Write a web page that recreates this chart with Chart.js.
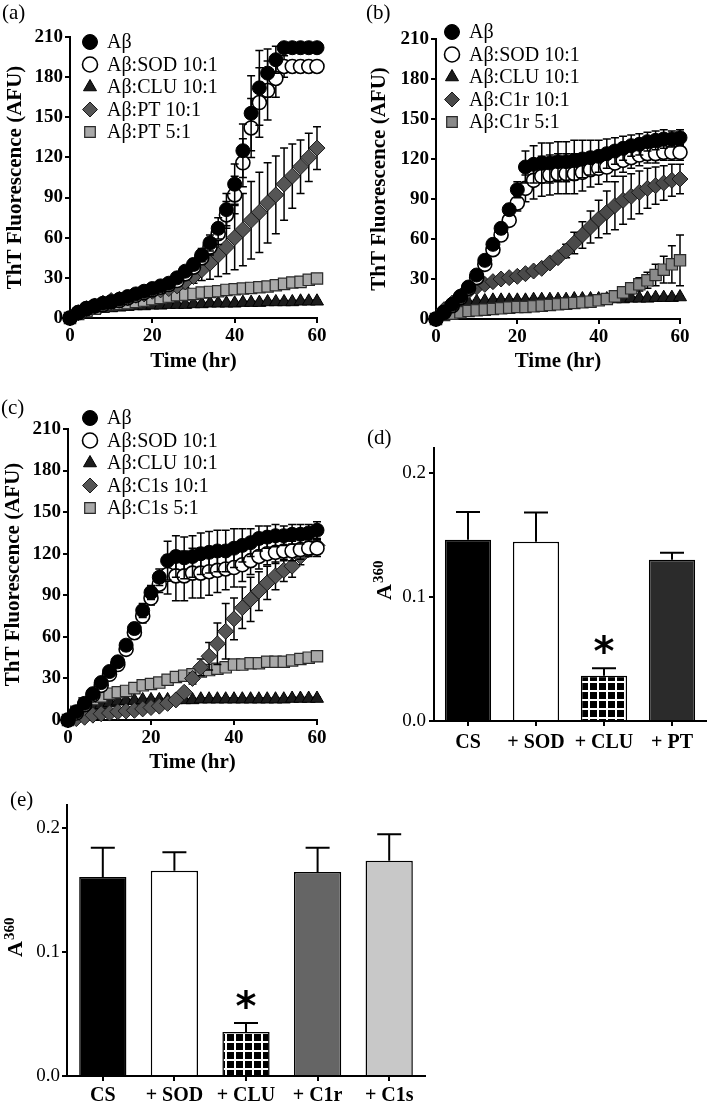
<!DOCTYPE html>
<html>
<head>
<meta charset="utf-8">
<script src="https://cdn.jsdelivr.net/npm/chart.js@4.4.0/dist/chart.umd.min.js"></script>
<style>
    html, body { margin: 0; padding: 0; background: #fff; overflow: hidden; }
    body { width: 709px; height: 1101px; position: relative; }
    canvas { position: absolute; }
</style>
</head>
<body>
<canvas id="chartA" width="354" height="380" style="left:0;top:0"></canvas>
<canvas id="chartB" width="355" height="380" style="left:354px;top:0"></canvas>
<canvas id="chartC" width="354" height="385" style="left:0;top:390px"></canvas>
<canvas id="chartD" width="355" height="340" style="left:354px;top:420px"></canvas>
<canvas id="chartE" width="460" height="321" style="left:0;top:780px"></canvas>
<script>
// Time points (hr)
const hours = [0, 2, 4, 6, 8, 10, 12, 14, 16, 18, 20, 22, 24, 26, 28, 30, 32, 34, 36, 38, 40, 42, 44, 46, 48, 50, 52, 54, 56, 58, 60];
const timeTicks = [0, 20, 40, 60];
const thtTicks = [0, 30, 60, 90, 120, 150, 180, 210];
const a360Ticks = [0, 0.1, 0.2];

// (a) Abeta with SOD, CLU and PT
const labelsA = ['Aβ', 'Aβ:SOD 10:1', 'Aβ:CLU 10:1', 'Aβ:PT 10:1', 'Aβ:PT 5:1'];
const abA = [0, 4, 7, 9, 11, 12, 14, 16, 18, 20, 22, 24, 26, 30, 35, 40, 47, 56, 67, 81, 100, 125, 153, 172, 183, 193, 202, 202, 202, 202, 202];
const sodA = [0, 4, 7, 9, 10, 12, 13, 15, 17, 19, 21, 23, 25, 28, 33, 38, 45, 53, 63, 77, 92, 116, 142, 161, 170, 179, 188, 188, 188, 188, 188];
const cluA = [0, 3, 5, 6, 7, 7.5, 8, 8.5, 9, 9, 9.5, 9.5, 10, 10, 10, 10.5, 10.5, 11, 11, 11, 11, 11.5, 11.5, 11.5, 12, 12, 12, 12, 12.5, 12.5, 12.5];
const pt10A = [0, 4, 7, 9, 11, 13, 14, 15, 17, 18, 20, 21, 22, 24, 27, 31, 36, 41, 47, 53, 60, 66, 73, 79, 86, 92, 100, 106, 113, 120, 127];
const pt5A = [0, 3, 5, 7, 9, 10, 10.5, 11, 12, 13, 14, 15, 16, 17, 17.5, 18, 19, 19.5, 20, 21, 21.5, 22, 22.5, 23, 23.5, 24.5, 25.5, 26.5, 27, 28.5, 29.5];
const abErrA = [0, 1, 1, 1, 1, 1, 1, 1, 1, 1, 1, 1, 2, 2, 3, 4, 5, 6, 8, 12, 15, 20, 28, 28, 18, 10, 0, 0, 0, 0, 0];
const sodErrA = [0, 1, 1, 1, 1, 1, 1, 1, 1, 1, 1, 1, 2, 2, 3, 4, 5, 6, 8, 10, 14, 18, 22, 26, 22, 14, 8, 0, 0, 0, 0];
const cluErrA = [0, 1, 1, 1, 1, 1, 1, 1, 1, 1, 1, 1, 1, 1, 1, 1, 1, 1, 1, 1, 1, 1, 1, 1, 1, 1, 1, 1, 1, 1, 1];
const pt10ErrA = [0, 0, 0, 0, 0, 0, 0, 0, 0, 0, 0, 0, 2, 3, 4, 5, 8, 12, 16, 20, 24, 27, 29, 30, 30, 29, 27, 24, 20, 18, 16];
const pt5ErrA = [0, 1, 1, 1, 1, 1, 1, 1, 1, 1, 1, 1, 1, 1, 1, 1, 1, 1, 1, 1, 1.5, 1.5, 1.5, 1.5, 1.5, 1.5, 2, 2, 2, 2, 2];

// (b) Abeta with SOD, CLU and C1r
const labelsB = ['Aβ', 'Aβ:SOD 10:1', 'Aβ:CLU 10:1', 'Aβ:C1r 10:1', 'Aβ:C1r 5:1'];
const abB = [0, 5, 11, 17, 24, 33, 44, 56, 68, 82, 97, 114, 116, 117, 117, 118, 118, 119, 120, 121, 122, 124, 126, 128, 130, 131, 133, 134, 135, 135, 136];
const sodB = [0, 5, 10, 16, 23, 31, 41, 52, 63, 74, 87, 98, 104, 107, 108, 109, 109, 109, 110, 112, 113, 114, 117, 119, 121, 123, 124, 124, 125, 125, 125];
const cluB = [0, 5, 9, 11, 12, 13, 13.5, 14, 14, 14, 14, 14, 14.5, 14.5, 14.5, 14.5, 14.5, 15, 15, 15, 15, 15, 15, 15, 15.5, 15.5, 15.5, 16, 16, 16, 16.5];
const c1r10B = [0, 7, 12, 17, 21, 24, 26, 28, 30, 31, 32, 34, 36, 38, 42, 46, 51, 57, 63, 69, 75, 80, 85, 89, 92, 95, 98, 100, 102, 104, 105];
const c1r5B = [0, 3, 4, 5, 6, 6.5, 7, 7.5, 8, 8.5, 9, 9, 9.5, 10, 10.5, 11, 11.5, 12, 12.5, 13, 14, 15, 17, 20, 23, 26, 29, 33, 37, 41, 44];
const abErrB = [0, 1, 1, 1, 2, 2, 3, 3, 4, 4, 6, 12, 14, 15, 15, 15, 15, 15, 14, 13, 12, 11, 10, 9, 8, 8, 7, 7, 7, 6, 6];
const sodErrB = [0, 1, 1, 1, 2, 2, 3, 3, 4, 4, 6, 10, 14, 15, 15, 15, 15, 15, 14, 13, 12, 11, 10, 9, 8, 8, 7, 7, 6, 6, 6];
const cluErrB = [0, 1, 1, 1, 1, 1, 1, 1, 1, 1, 1, 1, 1, 1, 1, 1, 1, 1, 1, 1, 1, 1, 1, 1, 1, 1, 1, 1, 1, 1, 1];
const c1r10ErrB = [0, 0, 0, 0, 0, 0, 0, 0, 0, 0, 1, 1, 1, 2, 2, 3, 5, 8, 10, 12, 14, 16, 18, 18, 17, 16, 15, 14, 13, 12, 11];
const c1r5ErrB = [0, 0, 0, 0, 0, 0, 0, 0, 0, 0, 0, 0, 0, 0, 0, 0, 0, 0, 0, 0, 0, 0, 2, 3, 4, 5, 6, 8, 10, 14, 19];

// (c) Abeta with SOD, CLU and C1s
const labelsC = ['Aβ', 'Aβ:SOD 10:1', 'Aβ:CLU 10:1', 'Aβ:C1s 10:1', 'Aβ:C1s 5:1'];
const abC = [0, 6, 12, 19, 27, 35, 42, 54, 66, 79, 92, 103, 115, 118, 117, 118, 120, 121, 122, 122, 124, 126, 128, 131, 132, 133, 133, 134, 134, 135, 137];
const sodC = [0, 5, 11, 18, 25, 33, 40, 51, 63, 75, 88, 98, 105, 104, 104, 106, 106, 107, 108, 109, 110, 112, 115, 118, 120, 121, 122, 122, 123, 124, 124];
const cluC = [0, 3, 6, 9, 11, 12.5, 13.5, 14, 14, 14.5, 14.5, 14.5, 14.5, 14.5, 14.5, 14.5, 15, 15, 15, 15, 15, 15, 15, 15, 15, 15, 15, 15.5, 15.5, 15.5, 15.5];
const c1s10C = [0, 1, 2, 3.5, 4.5, 5, 6, 6.5, 7, 8, 9, 10, 12, 14.5, 20, 30, 38, 46, 55, 64, 73, 81, 87, 93, 99, 104, 108, 111, 118, 123, 126];
const c1s5C = [0, 6, 12, 15, 17, 19, 20, 21, 23, 25, 26, 27, 29, 31, 32, 33, 35, 36, 37, 38, 40, 40, 41, 41, 42, 42, 42, 43, 44, 45, 46];
const abErrC = [0, 1, 1, 2, 2, 3, 3, 4, 4, 5, 5, 6, 14, 15, 15, 15, 15, 15, 15, 15, 14, 12, 10, 9, 8, 8, 7, 7, 7, 6, 6];
const sodErrC = [0, 1, 1, 2, 2, 3, 3, 4, 4, 5, 5, 6, 14, 18, 18, 18, 18, 17, 16, 15, 14, 12, 10, 9, 8, 8, 7, 7, 7, 6, 6];
const cluErrC = [0, 1, 1, 1, 1, 1, 1, 1, 1, 1, 1, 1, 1, 1, 1, 1, 1, 1, 1, 1, 1, 1, 1, 1, 1, 1, 1, 1, 1, 1, 1];
const c1s10ErrC = [0, 0, 0, 0, 0, 0, 0, 0, 0, 0, 0, 0, 0, 0, 2, 4, 6, 10, 15, 20, 15, 15, 16, 14, 12, 10, 8, 8, 6, 4, 3];
const c1s5ErrC = [0, 1, 1, 1, 1, 1, 1, 1, 1, 1, 1.5, 1.5, 1.5, 1.5, 1.5, 1.5, 1.5, 1.5, 1.5, 1.5, 1.5, 1.5, 1.5, 1.5, 1.5, 1.5, 1.5, 1.5, 1.5, 1.5, 1.5];

// (d) and (e) turbidity bars
const catsD = ['CS', '+ SOD', '+ CLU', '+ PT'];
const meanD = [0.146, 0.1445, 0.0365, 0.130];
const semD = [0.0225, 0.0235, 0.006, 0.0055];
const catsE = ['CS', '+ SOD', '+ CLU', '+ C1r', '+ C1s'];
const meanE = [0.1605, 0.1655, 0.0355, 0.1645, 0.1735];
const semE = [0.0235, 0.015, 0.0072, 0.0195, 0.0215];

const SERIF = "'Liberation Serif', 'DejaVu Serif', serif";
Chart.defaults.font.family = SERIF;
Chart.defaults.color = '#000';

// marker looks, same order as the legend
function markerSet(diamondFill, squareFill) {
    return [
        { style: 'circle', fill: '#000', border: '#000', bw: 1, r: 7, order: 0 },
        { style: 'circle', fill: '#fff', border: '#000', bw: 1.6, r: 7, order: 1 },
        { style: 'triangle', fill: '#1c1c1c', border: '#000', bw: 1, r: 7.5, order: 4 },
        { style: 'rectRot', fill: diamondFill, border: '#1a1a1a', bw: 1, r: 8, order: 2 },
        { style: 'rect', fill: squareFill, border: '#2a2a2a', bw: 1.2, r: 8, order: 3 }
    ];
}

function drawMarker(ctx, m, x, y, r) {
    ctx.beginPath();
    if (m.style === 'circle') {
        ctx.arc(x, y, r, 0, Math.PI * 2);
    } else if (m.style === 'triangle') {
        const s = Math.sin(Math.PI / 3) * r;
        ctx.moveTo(x, y - r);
        ctx.lineTo(x + s, y + r / 2);
        ctx.lineTo(x - s, y + r / 2);
        ctx.closePath();
    } else if (m.style === 'rectRot') {
        ctx.moveTo(x, y - r);
        ctx.lineTo(x + r, y);
        ctx.lineTo(x, y + r);
        ctx.lineTo(x - r, y);
        ctx.closePath();
    } else {
        const h = r * Math.SQRT1_2;
        ctx.rect(x - h, y - h, 2 * h, 2 * h);
    }
    ctx.fillStyle = m.fill;
    ctx.fill();
    ctx.lineWidth = m.bw;
    ctx.strokeStyle = m.border;
    ctx.stroke();
}

// error bars for the kinetic curves, drawn just under each series
const kineticErrors = {
    id: 'kineticErrors',
    beforeDatasetDraw(chart, args) {
        const ds = chart.data.datasets[args.index];
        const y = chart.scales.y;
        const ctx = chart.ctx;
        ctx.save();
        ctx.strokeStyle = '#000';
        ctx.lineWidth = 1.5;
        args.meta.data.forEach((pt, i) => {
            const e = ds.errors[i];
            if (!e) return;
            const v = ds.data[i].y;
            const top = y.getPixelForValue(v + e);
            const bot = y.getPixelForValue(Math.max(0, v - e));
            ctx.beginPath();
            ctx.moveTo(pt.x, top); ctx.lineTo(pt.x, bot);
            ctx.moveTo(pt.x - 4, top); ctx.lineTo(pt.x + 4, top);
            ctx.moveTo(pt.x - 4, bot); ctx.lineTo(pt.x + 4, bot);
            ctx.stroke();
        });
        ctx.restore();
    }
};

const boxLegend = {
    id: 'boxLegend',
    afterDraw(chart, args, opts) {
        const ctx = chart.ctx;
        ctx.save();
        opts.labels.forEach((text, i) => {
            const y = opts.y + i * opts.gap;
            drawMarker(ctx, opts.markers[i], opts.x, y, 7.5);
            ctx.fillStyle = '#000';
            ctx.font = '20px ' + SERIF;
            ctx.textAlign = 'left';
            ctx.textBaseline = 'middle';
            ctx.fillText(text, opts.x + 17, y + 1);
        });
        ctx.restore();
    }
};

const panelLabel = {
    id: 'panelLabel',
    afterDraw(chart, args, opts) {
        const ctx = chart.ctx;
        ctx.save();
        ctx.fillStyle = '#000';
        ctx.font = '21px ' + SERIF;
        ctx.textAlign = 'left';
        ctx.textBaseline = 'middle';
        ctx.fillText(opts.text, opts.x, opts.y);
        ctx.restore();
    }
};

function axisLook(tickLen) {
    return {
        grid: { display: true, drawOnChartArea: false, drawTicks: true, tickLength: tickLen, color: '#000', lineWidth: 2 },
        border: { display: true, color: '#000', width: 2 }
    };
}

function kineticChart(id, labels, values, errors, markers, lay) {
    const datasets = values.map((vals, k) => ({
        label: labels[k],
        data: hours.map((h, i) => ({ x: h, y: vals[i] })),
        errors: errors[k],
        showLine: false,
        pointStyle: markers[k].style,
        pointRadius: markers[k].r,
        pointHoverRadius: markers[k].r,
        pointBackgroundColor: markers[k].fill,
        pointBorderColor: markers[k].border,
        pointBorderWidth: markers[k].bw,
        order: markers[k].order,
        clip: false
    }));
    return new Chart(document.getElementById(id), {
        type: 'scatter',
        data: { datasets },
        plugins: [kineticErrors, boxLegend, panelLabel],
        options: {
            responsive: false,
            animation: false,
            devicePixelRatio: 1,
            layout: { padding: lay.padding },
            plugins: {
                legend: { display: false },
                tooltip: { enabled: false },
                boxLegend: { labels, markers, x: lay.legX, y: lay.legY, gap: 22.5 },
                panelLabel: lay.tag
            },
            scales: {
                x: {
                    type: 'linear', min: 0, max: 60,
                    afterBuildTicks: s => { s.ticks = timeTicks.map(v => ({ value: v })); },
                    afterFit: s => { s.height = lay.xh; },
                    ticks: { font: { size: 19, weight: 'bold' }, color: '#000', padding: 2 },
                    title: { display: true, text: 'Time (hr)', color: '#000', font: { size: 21, weight: 'bold' }, padding: { top: 0, bottom: lay.xtPad } },
                    ...axisLook(5)
                },
                y: {
                    type: 'linear', min: 0, max: 210,
                    afterBuildTicks: s => { s.ticks = thtTicks.map(v => ({ value: v })); },
                    afterFit: s => { s.width = lay.yw; },
                    ticks: { font: { size: 19, weight: 'bold' }, color: '#000', padding: 2 },
                    title: { display: true, text: 'ThT Fluorescence (AFU)', color: '#000', font: { size: 21, weight: 'bold' }, padding: { top: lay.ytPad, bottom: 0 } },
                    ...axisLook(5)
                }
            }
        }
    });
}

// upward error bars, A360 title and the asterisk for the bar panels
const barExtras = {
    id: 'barExtras',
    afterDatasetsDraw(chart, args, opts) {
        const ctx = chart.ctx;
        const y = chart.scales.y;
        const meta = chart.getDatasetMeta(0);
        const ds = chart.data.datasets[0];
        ctx.save();
        ctx.strokeStyle = '#000';
        ctx.lineWidth = 2;
        meta.data.forEach((bar, i) => {
            const top = y.getPixelForValue(ds.data[i] + opts.errors[i]);
            ctx.beginPath();
            ctx.moveTo(bar.x, bar.y);
            ctx.lineTo(bar.x, top);
            ctx.moveTo(bar.x - 12, top);
            ctx.lineTo(bar.x + 12, top);
            ctx.stroke();
        });
        // asterisk over the clusterin bar
        const star = meta.data[opts.starIndex];
        const starTop = y.getPixelForValue(ds.data[opts.starIndex] + opts.errors[opts.starIndex]);
        ctx.fillStyle = '#000';
        ctx.font = "bold 40px 'DejaVu Sans', sans-serif";
        ctx.textAlign = 'center';
        ctx.textBaseline = 'alphabetic';
        ctx.fillText('*', star.x, starTop - 25 + 22);
        // y title: A with superscript 360
        ctx.translate(opts.titleX, opts.titleY);
        ctx.rotate(-Math.PI / 2);
        ctx.textAlign = 'left';
        ctx.font = 'bold 22px ' + SERIF;
        ctx.fillText('A', 0, 0);
        const w = ctx.measureText('A').width;
        ctx.font = 'bold 15px ' + SERIF;
        ctx.fillText('360', w + 1, -8);
        ctx.restore();
    }
};

function gridPattern(ctx) {
    const tile = document.createElement('canvas');
    tile.width = 9;
    tile.height = 9;
    const g = tile.getContext('2d');
    g.fillStyle = '#000';
    g.fillRect(0, 0, 9, 9);
    g.fillStyle = '#fff';
    g.fillRect(0, 0, 9, 2);
    g.fillRect(0, 0, 2, 9);
    return ctx.createPattern(tile, 'repeat');
}

function barChart(id, cats, means, errs, fills, lay) {
    return new Chart(document.getElementById(id), {
        type: 'bar',
        data: {
            labels: cats,
            datasets: [{
                data: means,
                backgroundColor: fills,
                borderColor: '#000',
                borderWidth: 1.5,
                categoryPercentage: 1,
                barPercentage: lay.barPct
            }]
        },
        plugins: [barExtras, panelLabel],
        options: {
            responsive: false,
            animation: false,
            devicePixelRatio: 1,
            layout: { padding: lay.padding },
            plugins: {
                legend: { display: false },
                tooltip: { enabled: false },
                barExtras: { errors: errs, starIndex: 2, titleX: lay.titleX, titleY: lay.titleY },
                panelLabel: lay.tag
            },
            scales: {
                x: {
                    afterFit: s => { s.height = lay.xh; },
                    ticks: { font: { size: 20, weight: 'bold' }, color: '#000', padding: lay.xPad },
                    ...axisLook(5),
                    grid: { display: true, offset: false, drawOnChartArea: false, tickLength: 5, color: '#000', lineWidth: 2 }
                },
                y: {
                    min: 0, max: lay.ymax,
                    afterBuildTicks: s => { s.ticks = a360Ticks.map(v => ({ value: v })); },
                    afterFit: s => { s.width = lay.yw; },
                    ticks: { font: { size: 19 }, color: '#000', padding: lay.yPad, callback: v => v.toFixed(1) },
                    ...axisLook(5)
                }
            }
        }
    });
}

kineticChart('chartA', labelsA,
    [abA, sodA, cluA, pt10A, pt5A],
    [abErrA, sodErrA, cluErrA, pt10ErrA, pt5ErrA],
    markerSet('#555555', '#a9a9a9'),
    { padding: { left: 0, top: 37, right: 37, bottom: 0 }, yw: 70, xh: 62, xtPad: 6, ytPad: 3,
      legX: 90, legY: 42, tag: { text: '(a)', x: 2, y: 13 } });

kineticChart('chartB', labelsB,
    [abB, sodB, cluB, c1r10B, c1r5B],
    [abErrB, sodErrB, cluErrB, c1r10ErrB, c1r5ErrB],
    markerSet('#4a4a4a', '#8a8a8a'),
    { padding: { left: 10, top: 39, right: 29, bottom: 0 }, yw: 72, xh: 61, xtPad: 6, ytPad: 3,
      legX: 98, legY: 32, tag: { text: '(b)', x: 12, y: 13 } });

kineticChart('chartC', labelsC,
    [abC, sodC, cluC, c1s10C, c1s5C],
    [abErrC, sodErrC, cluErrC, c1s10ErrC, c1s5ErrC],
    markerSet('#555555', '#a9a9a9'),
    { padding: { left: 0, top: 39, right: 37, bottom: 0 }, yw: 68, xh: 55, xtPad: 0, ytPad: 1,
      legX: 90, legY: 28, tag: { text: '(c)', x: 1, y: 18 } });

const ctxD = document.getElementById('chartD').getContext('2d');
barChart('chartD', catsD, meanD, semD,
    ['#000000', '#ffffff', gridPattern(ctxD), '#2b2b2b'],
    { padding: { left: 0, top: 28, right: 3, bottom: 0 }, yw: 80, xh: 39, ymax: 0.22, barPct: 0.68,
      xPad: 5, yPad: 3, titleX: 37, titleY: 180, tag: { text: '(d)', x: 13, y: 18 } });

const ctxE = document.getElementById('chartE').getContext('2d');
barChart('chartE', catsE, meanE, semE,
    ['#000000', '#ffffff', gridPattern(ctxE), '#656565', '#c8c8c8'],
    { padding: { left: 0, top: 25, right: 35, bottom: 0 }, yw: 67, xh: 25, ymax: 0.2185, barPct: 0.66,
      xPad: 3, yPad: 2, titleX: 22, titleY: 177, tag: { text: '(e)', x: 10, y: 20 } });
</script>
</body>
</html>
